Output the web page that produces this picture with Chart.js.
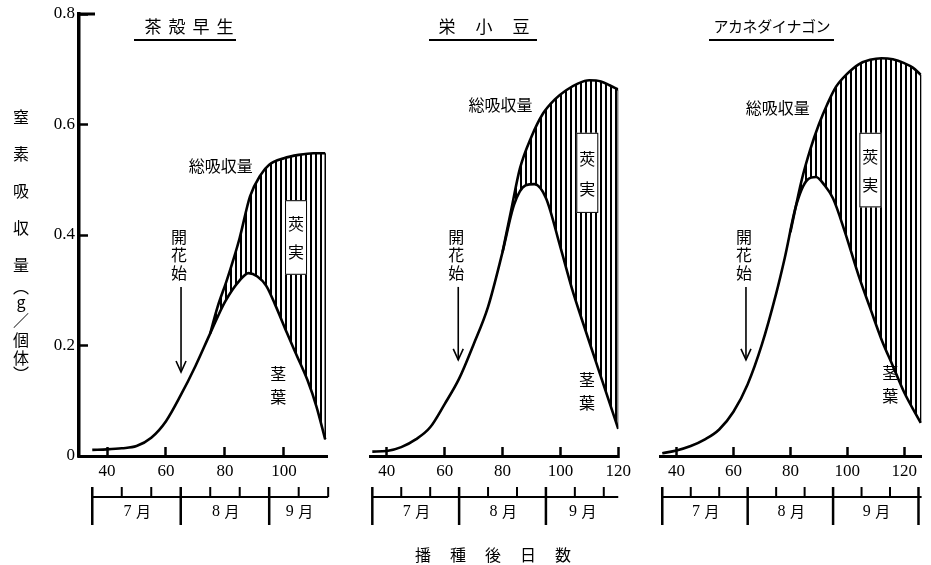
<!DOCTYPE html>
<html lang="ja">
<head>
<meta charset="utf-8">
<title>窒素吸収量</title>
<script src="https://cdn.jsdelivr.net/npm/chart.js@4/dist/chart.umd.min.js"></script>
<style>
  html, body { margin: 0; padding: 0; background: #fff; }
  body { width: 931px; height: 565px; position: relative; overflow: hidden; }
  canvas { position: absolute; top: 0; }
</style>
</head>
<body>
<canvas id="c1" width="345" height="565" style="left:0px"></canvas>
<canvas id="c2" width="300" height="565" style="left:345px"></canvas>
<canvas id="c3" width="286" height="565" style="left:645px"></canvas>
<script>
// axis ticks and calendar (days after sowing)
const xTicks = [40, 60, 80, 100, 120];
const yTicks = [0, 0.2, 0.4, 0.6, 0.8];
const monthStarts = [35, 65, 95, 125];
const monthNames = ["7月", "8月", "9月"];
const tenDayTicks = [45, 55, 75, 85, 105, 115];

// 茶殻早生
const chagaraStemDays = [35, 40, 45, 50, 55, 60, 65, 70, 75, 80, 85, 88, 91, 94, 97, 101, 104, 108, 111, 114];
const chagaraStem = [0.011, 0.012, 0.014, 0.018, 0.033, 0.063, 0.11, 0.163, 0.222, 0.279, 0.318, 0.331, 0.325, 0.308, 0.274, 0.223, 0.186, 0.137, 0.09, 0.03];
const chagaraTotalDays = [75, 77.5, 80.5, 83, 85, 88.5, 92, 95, 100, 105, 110, 114];
const chagaraTotal = [0.222, 0.27, 0.316, 0.358, 0.395, 0.47, 0.508, 0.527, 0.539, 0.545, 0.548, 0.548];

// 栄小豆
const sakaeStemDays = [35, 40, 45, 50, 55, 60, 65, 70, 75, 80, 84, 88, 91, 95, 100, 104, 108, 112, 116, 120];
const sakaeStem = [0.008, 0.009, 0.016, 0.03, 0.052, 0.094, 0.14, 0.202, 0.27, 0.369, 0.455, 0.49, 0.492, 0.467, 0.378, 0.303, 0.238, 0.175, 0.112, 0.049];
const sakaeTotalDays = [80, 83, 86, 90, 94, 98, 102, 106, 110, 114, 117, 120];
const sakaeTotal = [0.369, 0.445, 0.52, 0.578, 0.62, 0.645, 0.662, 0.674, 0.68, 0.678, 0.671, 0.663];

// アカネダイナゴン
const akaneStemDays = [35, 40, 45, 50, 55, 60, 65, 70, 75, 78, 82, 86, 89, 92, 95, 99, 104, 108, 112, 116, 120, 125.8];
const akaneStem = [0.005, 0.01, 0.018, 0.03, 0.048, 0.08, 0.13, 0.202, 0.294, 0.358, 0.453, 0.5, 0.505, 0.49, 0.466, 0.408, 0.326, 0.268, 0.211, 0.163, 0.115, 0.06];
const akaneTotalDays = [80, 84, 87, 90, 93, 96, 100, 104, 108, 112, 116, 120, 123, 125.8];
const akaneTotal = [0.405, 0.5, 0.555, 0.6, 0.637, 0.668, 0.692, 0.709, 0.717, 0.72, 0.718, 0.711, 0.703, 0.69];

const jp = '"Noto Sans CJK JP", sans-serif';
const num = '"Liberation Serif", "DejaVu Serif", serif';

const panels = [
  {
    id: "c1", left: 0, showY: true, xMin: 30.5, xMax: 114.6, barEnd: 115,
    padding: { left: 0, right: 18, top: 14, bottom: 0 },
    stemDays: chagaraStemDays, stem: chagaraStem, totalDays: chagaraTotalDays, total: chagaraTotal,
    title: { text: "茶殻早生", cx: 189, gap: 24, size: 17, y: 27, line: [134, 236] },
    notes: { total: [78.6, 0.525], pod: [104.1, 0.463, 0.328], bloom: [65.1, 0.152, 0.306], stem: [98.1, 0.148] },
  },
  {
    id: "c2", left: 345, showY: false, xMin: 34.2, xMax: 120, barEnd: 120,
    padding: { left: 25, right: 22, top: 14, bottom: 0 },
    stemDays: sakaeStemDays, stem: sakaeStem, totalDays: sakaeTotalDays, total: sakaeTotal,
    title: { text: "栄小豆", cx: 484, gap: 37, size: 17, y: 27, line: [429, 537] },
    notes: { total: [79.3, 0.635], pod: [109.3, 0.585, 0.44], bloom: [64.7, 0.174, 0.306], stem: [109.2, 0.138] },
  },
  {
    id: "c3", left: 645, showY: false, xMin: 34.2, xMax: 126.1, barEnd: 126.1,
    padding: { left: 15, right: 0, top: 14, bottom: 0 },
    stemDays: akaneStemDays, stem: akaneStem, totalDays: akaneTotalDays, total: akaneTotal,
    title: { text: "アカネダイナゴン", cx: 772, gap: 14.6, size: 15, y: 26, line: [709, 834] },
    notes: { total: [75.6, 0.63], pod: [108.1, 0.585, 0.45], bloom: [64.4, 0.174, 0.306], stem: [115.1, 0.15] },
  },
];

function stripes() {
  const c = document.createElement("canvas");
  c.width = 5;
  c.height = 5;
  const g = c.getContext("2d");
  g.fillStyle = "#000";
  g.fillRect(0, 0, 2, 5);
  return g.createPattern(c, "repeat");
}

const points = (days, vals) => days.map((d, i) => ({ x: d, y: vals[i] }));

function line(ctx, x1, y1, x2, y2) {
  ctx.beginPath();
  ctx.moveTo(x1, y1);
  ctx.lineTo(x2, y2);
  ctx.stroke();
}

function decor(p) {
  return {
    id: "decor",
    afterDatasetsDraw(chart) {
      const { ctx, scales: { x, y } } = chart;
      const n = p.notes;
      ctx.save();
      ctx.fillStyle = "#000";
      ctx.strokeStyle = "#000";
      ctx.textAlign = "center";
      ctx.textBaseline = "middle";
      ctx.font = `16px ${jp}`;
      ctx.fillText("総吸収量", x.getPixelForValue(n.total[0]), y.getPixelForValue(n.total[1]));

      // 莢実 box
      const bx = x.getPixelForValue(n.pod[0]);
      const bt = y.getPixelForValue(n.pod[1]);
      const bb = y.getPixelForValue(n.pod[2]);
      ctx.fillStyle = "#fff";
      ctx.fillRect(bx - 11, bt, 22, bb - bt);
      ctx.lineWidth = 1;
      ctx.strokeRect(bx - 10.5, bt + 0.5, 21, bb - bt - 1);
      ctx.fillStyle = "#000";
      ctx.fillText("莢", bx, bt + (bb - bt) * 0.32);
      ctx.fillText("実", bx, bt + (bb - bt) * 0.7);

      // 開花始 arrow
      const ax = x.getPixelForValue(n.bloom[0]);
      const tip = y.getPixelForValue(n.bloom[1]);
      const top = y.getPixelForValue(n.bloom[2]);
      ["開", "花", "始"].forEach((c, i) => ctx.fillText(c, ax - 2, top - 50 + i * 18));
      ctx.lineWidth = 1.6;
      line(ctx, ax, top, ax, tip);
      ctx.beginPath();
      ctx.moveTo(ax - 5, tip - 11);
      ctx.lineTo(ax, tip);
      ctx.lineTo(ax + 5, tip - 11);
      ctx.stroke();

      // 茎葉
      const sx = x.getPixelForValue(n.stem[0]);
      const sy = y.getPixelForValue(n.stem[1]);
      ctx.fillText("茎", sx, sy);
      ctx.fillText("葉", sx, sy + 23);
      ctx.restore();
    },
    afterDraw(chart) {
      const { ctx, scales: { x, y } } = chart;
      const off = p.left;
      ctx.save();
      ctx.strokeStyle = "#000";
      ctx.fillStyle = "#000";

      // month bar under the axis
      const yLine = 497, yTop = 487, yBot = 525;
      ctx.lineWidth = 2;
      line(ctx, x.getPixelForValue(monthStarts[0]), yLine, x.getPixelForValue(p.barEnd), yLine);
      ctx.lineWidth = 2.5;
      monthStarts.filter(d => d <= p.barEnd).forEach(d => {
        const px = x.getPixelForValue(d);
        line(ctx, px, yTop, px, yBot);
      });
      ctx.lineWidth = 2;
      tenDayTicks.filter(d => d <= p.barEnd).forEach(d => {
        const px = x.getPixelForValue(d);
        line(ctx, px, yTop, px, yLine);
      });
      ctx.textAlign = "center";
      ctx.textBaseline = "middle";
      monthNames.forEach((m, i) => {
        const end = Math.min(monthStarts[i + 1], p.barEnd);
        const px = x.getPixelForValue((monthStarts[i] + end) / 2);
        ctx.font = `16px ${num}`;
        ctx.fillText(m.slice(0, 1), px - 9, 512);
        ctx.font = `15px ${jp}`;
        ctx.fillText("月", px + 7, 511);
      });

      // panel title, underlined
      const t = p.title;
      const chars = [...t.text];
      ctx.font = `${t.size}px ${jp}`;
      chars.forEach((c, i) => {
        ctx.fillText(c, t.cx - off + (i - (chars.length - 1) / 2) * t.gap, t.y);
      });
      ctx.lineWidth = 2;
      line(ctx, t.line[0] - off, 40, t.line[1] - off, 40);

      if (p.showY) {
        // cap at the top of the y axis
        ctx.lineWidth = 3;
        const y8 = y.getPixelForValue(0.8);
        line(ctx, x.left, y8, x.left + 16, y8);
        // vertical y title
        ctx.font = `16px ${jp}`;
        [["窒", 117], ["素", 154], ["吸", 191], ["収", 228], ["量", 265],
         ["︵", 287], ["g", 302], ["／", 320], ["個", 340], ["体", 358], ["︶", 374]]
          .forEach(([c, py]) => ctx.fillText(c, 21, py));
      }
      if (p.id === "c2") {
        ctx.font = `16px ${jp}`;
        ["播", "種", "後", "日", "数"].forEach((c, i) => ctx.fillText(c, 493 - off + (i - 2) * 35, 555));
      }
      ctx.restore();
    },
  };
}

function buildChart(p) {
  const stemPts = points(p.stemDays, p.stem);
  const totalPts = points(p.totalDays, p.total);
  return new Chart(document.getElementById(p.id), {
    type: "line",
    data: {
      datasets: [
        { label: "茎葉", data: stemPts, borderColor: "#000", borderWidth: 2.6, pointRadius: 0, fill: false, cubicInterpolationMode: "monotone" },
        { label: "総吸収量", data: totalPts, borderColor: "#000", borderWidth: 2.6, pointRadius: 0, fill: "-1", backgroundColor: stripes(), cubicInterpolationMode: "monotone" },
        { label: "莢実", data: [stemPts[stemPts.length - 1], totalPts[totalPts.length - 1]], borderColor: "#000", borderWidth: 1.5, pointRadius: 0, fill: false },
      ],
    },
    options: {
      responsive: false,
      animation: false,
      events: [],
      layout: { padding: p.padding },
      plugins: { legend: { display: false }, tooltip: { enabled: false } },
      scales: {
        x: {
          type: "linear",
          min: p.xMin,
          max: p.xMax,
          afterBuildTicks: s => { s.ticks = xTicks.filter(v => v >= p.xMin && v <= p.xMax).map(v => ({ value: v })); },
          afterFit: s => { s.height = 109; },
          grid: { drawOnChartArea: false, tickLength: -9, tickWidth: 2.5, tickColor: "#000" },
          border: { color: "#000", width: 3 },
          ticks: { color: "#000", padding: 14, font: { family: num, size: 17 }, callback: v => `${v}` },
        },
        y: {
          display: p.showY,
          min: 0,
          max: 0.8,
          afterBuildTicks: s => { s.ticks = yTicks.map(v => ({ value: v })); },
          afterFit: s => {
            if (!p.showY) return;
            s.width = 79;
            s.paddingTop = 0;
            s.paddingBottom = 0;
          },
          grid: { drawOnChartArea: false, tickLength: -9, tickWidth: 2.5, tickColor: "#000" },
          border: { color: "#000", width: 3.5 },
          ticks: { color: "#000", padding: 13, font: { family: num, size: 17 }, callback: v => v === 0 ? "0" : Number(v).toFixed(1) },
        },
      },
    },
    plugins: [decor(p)],
  });
}

panels.forEach(buildChart);
</script>
</body>
</html>
